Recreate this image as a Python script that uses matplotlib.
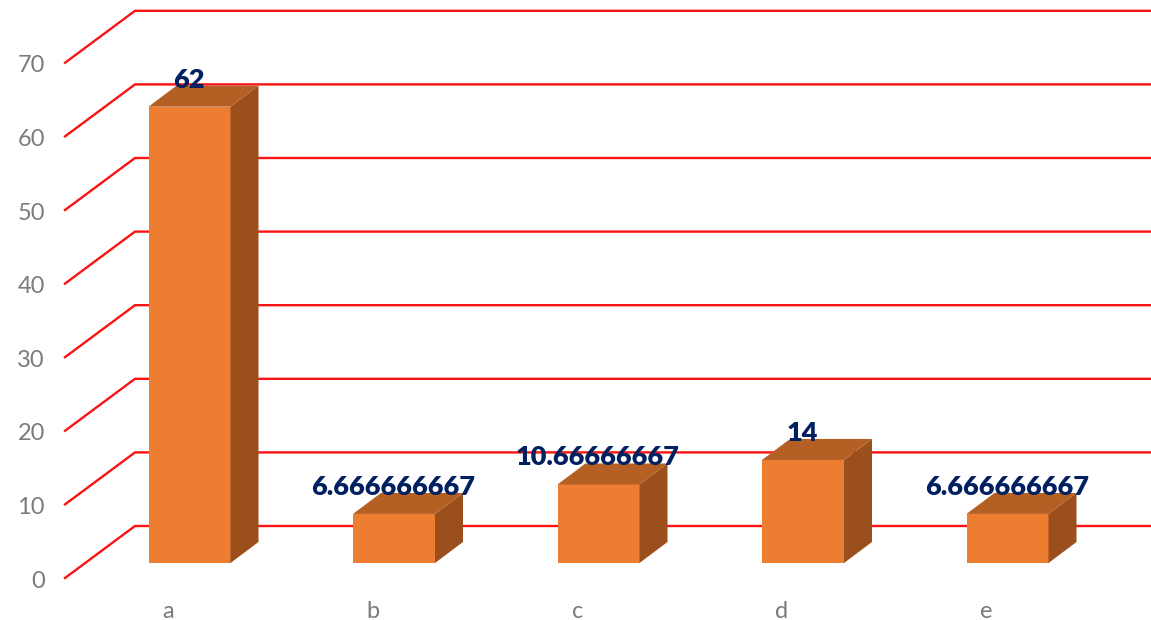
import matplotlib
matplotlib.use("Agg")
import matplotlib.pyplot as plt
from matplotlib.patches import Polygon

categories = ["a", "b", "c", "d", "e"]
values = [62, 6.666666667, 10.66666667, 14, 6.666666667]
value_labels = ["62", "6.666666667", "10.66666667", "14", "6.666666667"]
y_ticks = [0, 10, 20, 30, 40, 50, 60, 70]

W, H = 1151, 620
PX_X = 204.5  # pixels per category
PX_Y = 7.36   # pixels per value unit

plt.rcParams["font.family"] = ["Lato", "DejaVu Sans"]

fig = plt.figure(figsize=(W / 100, H / 100), dpi=100)
ax = fig.add_axes([0, 0, 1, 1])
ax.set_xlim(-189.5 / PX_X, (W - 189.5) / PX_X)
ax.set_ylim(-(H - 578) / PX_Y, 578 / PX_Y)
ax.axis("off")

# fake 3d: offsets in data units
wall_dx = 70 / PX_X
wall_dy = 52 / PX_Y
bar_w = 82 / PX_X
bar_dx = 28 / PX_X
bar_dy = 21 / PX_Y
floor = 15 / PX_Y
left = (65 - 189.5) / PX_X
right = (1151 - 189.5) / PX_X

for t in y_ticks:
    ax.plot([left, left + wall_dx, right], [t, t + wall_dy, t + wall_dy],
            color="#fb1212", lw=1.7, solid_joinstyle="miter", zorder=1)
    ax.text(left - 20 / PX_X, t - 3 / PX_Y, str(t), ha="right", va="center",
            fontsize=17, fontweight="normal", color="#7b7b7b")

for i, (cat, v, lab) in enumerate(zip(categories, values, value_labels)):
    x0 = i - bar_w / 2
    x1 = i + bar_w / 2
    y0 = floor
    y1 = v + floor
    ax.add_patch(Polygon([(x0, y0), (x1, y0), (x1, y1), (x0, y1)],
                         facecolor="#ed7d31", edgecolor="none", zorder=3))
    ax.add_patch(Polygon([(x1, y0), (x1 + bar_dx, y0 + bar_dy), (x1 + bar_dx, y1 + bar_dy), (x1, y1)],
                         facecolor="#9a4f1c", edgecolor="none", zorder=3))
    ax.add_patch(Polygon([(x0, y1), (x1, y1), (x1 + bar_dx, y1 + bar_dy), (x0 + bar_dx, y1 + bar_dy)],
                         facecolor="#b46024", edgecolor="none", zorder=3))
    ax.text(i - 0.5 / PX_X, y1 + 27 / PX_Y, lab, ha="center", va="center",
            fontsize=19.5, fontweight="heavy", color="#002060", zorder=4)
    ax.text(i - 21 / PX_X, -33 / PX_Y, cat, ha="center", va="center",
            fontsize=17, fontweight="normal", color="#7b7b7b")

fig.savefig("out.png", dpi=100, facecolor="white")
